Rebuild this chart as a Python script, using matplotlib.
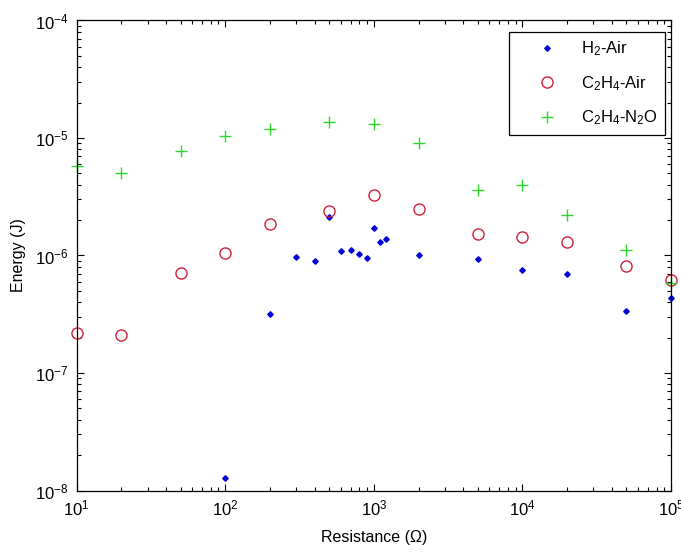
import matplotlib
matplotlib.use("Agg")
import matplotlib.pyplot as plt
from matplotlib.ticker import LogLocator, NullFormatter

plt.rcParams["font.family"] = ["Liberation Sans", "DejaVu Sans"]
plt.rcParams["mathtext.fontset"] = "custom"
plt.rcParams["mathtext.rm"] = "Liberation Sans"
plt.rcParams["mathtext.it"] = "Liberation Sans:italic"
plt.rcParams["mathtext.bf"] = "Liberation Sans:bold"

# H2-Air ignition energy vs. resistance
h2_res = [100, 200, 300, 400, 500, 600, 700, 800, 900, 1000, 1100, 1200,
          2000, 5000, 10000, 20000, 50000, 100000]
h2_energy = [1.27e-8, 3.17e-7, 9.8e-7, 9.0e-7, 2.13e-6, 1.09e-6, 1.12e-6,
             1.03e-6, 9.5e-7, 1.72e-6, 1.31e-6, 1.39e-6, 1.01e-6, 9.25e-7,
             7.46e-7, 6.9e-7, 3.34e-7, 4.34e-7]

# C2H4-Air
c2h4_air_res = [10, 20, 50, 100, 200, 500, 1000, 2000, 5000, 10000, 20000,
                50000, 100000]
c2h4_air_energy = [2.17e-7, 2.12e-7, 7.13e-7, 1.05e-6, 1.86e-6, 2.38e-6,
                   3.25e-6, 2.51e-6, 1.53e-6, 1.43e-6, 1.31e-6, 8.11e-7,
                   6.14e-7]

# C2H4-N2O
c2h4_n2o_res = [10, 20, 50, 100, 200, 500, 1000, 2000, 5000, 10000, 20000,
                50000, 100000]
c2h4_n2o_energy = [5.74e-6, 5.04e-6, 7.69e-6, 1.03e-5, 1.19e-5, 1.36e-5,
                   1.32e-5, 9.06e-6, 3.64e-6, 4.01e-6, 2.23e-6, 1.11e-6,
                   5.86e-7]

fig = plt.figure(figsize=(6.81, 5.52), dpi=100)
ax = fig.add_axes([0.1126, 0.1114, 0.8727, 0.8515])

ax.plot(h2_res, h2_energy, linestyle="none", marker="D", markersize=2.8,
        color="#0000d8", label="H$_2$-Air", clip_on=False)
ax.plot(c2h4_air_res, c2h4_air_energy, linestyle="none", marker="o",
        markersize=8, markerfacecolor="none", markeredgecolor="#d0203a",
        markeredgewidth=1.0, label="C$_2$H$_4$-Air", clip_on=False)
ax.plot(c2h4_n2o_res, c2h4_n2o_energy, linestyle="none", marker="+",
        markersize=9, markeredgewidth=1.0, color="#2ed82e",
        label="C$_2$H$_4$-N$_2$O", clip_on=False)

ax.set_xscale("log")
ax.set_yscale("log")
ax.set_xlim(10, 1e5)
ax.set_ylim(1e-8, 1e-4)

ax.xaxis.set_major_locator(LogLocator(base=10, numticks=10))
ax.yaxis.set_major_locator(LogLocator(base=10, numticks=10))
ax.xaxis.set_minor_locator(LogLocator(base=10, subs=range(2, 10), numticks=20))
ax.yaxis.set_minor_locator(LogLocator(base=10, subs=range(2, 10), numticks=20))
ax.xaxis.set_minor_formatter(NullFormatter())
ax.yaxis.set_minor_formatter(NullFormatter())

ax.tick_params(which="both", direction="in", top=True, right=True,
               labelsize=12, width=0.8)
ax.tick_params(which="major", length=5, pad=6)
ax.tick_params(which="minor", length=3)
for sp in ax.spines.values():
    sp.set_linewidth(0.9)

ax.set_xlabel("Resistance (\u03a9)", fontsize=11.5, labelpad=8)
ax.set_ylabel("Energy (J)", fontsize=11.5, labelpad=6)

leg = ax.legend(loc="upper right", bbox_to_anchor=(0.99, 0.975),
                fontsize=12, fancybox=False, framealpha=1,
                edgecolor="black", labelspacing=0.95, borderpad=0.45,
                handletextpad=0.25, handlelength=3.6, borderaxespad=0)
leg.get_frame().set_linewidth(0.9)

fig.savefig("out.png", dpi=100)
